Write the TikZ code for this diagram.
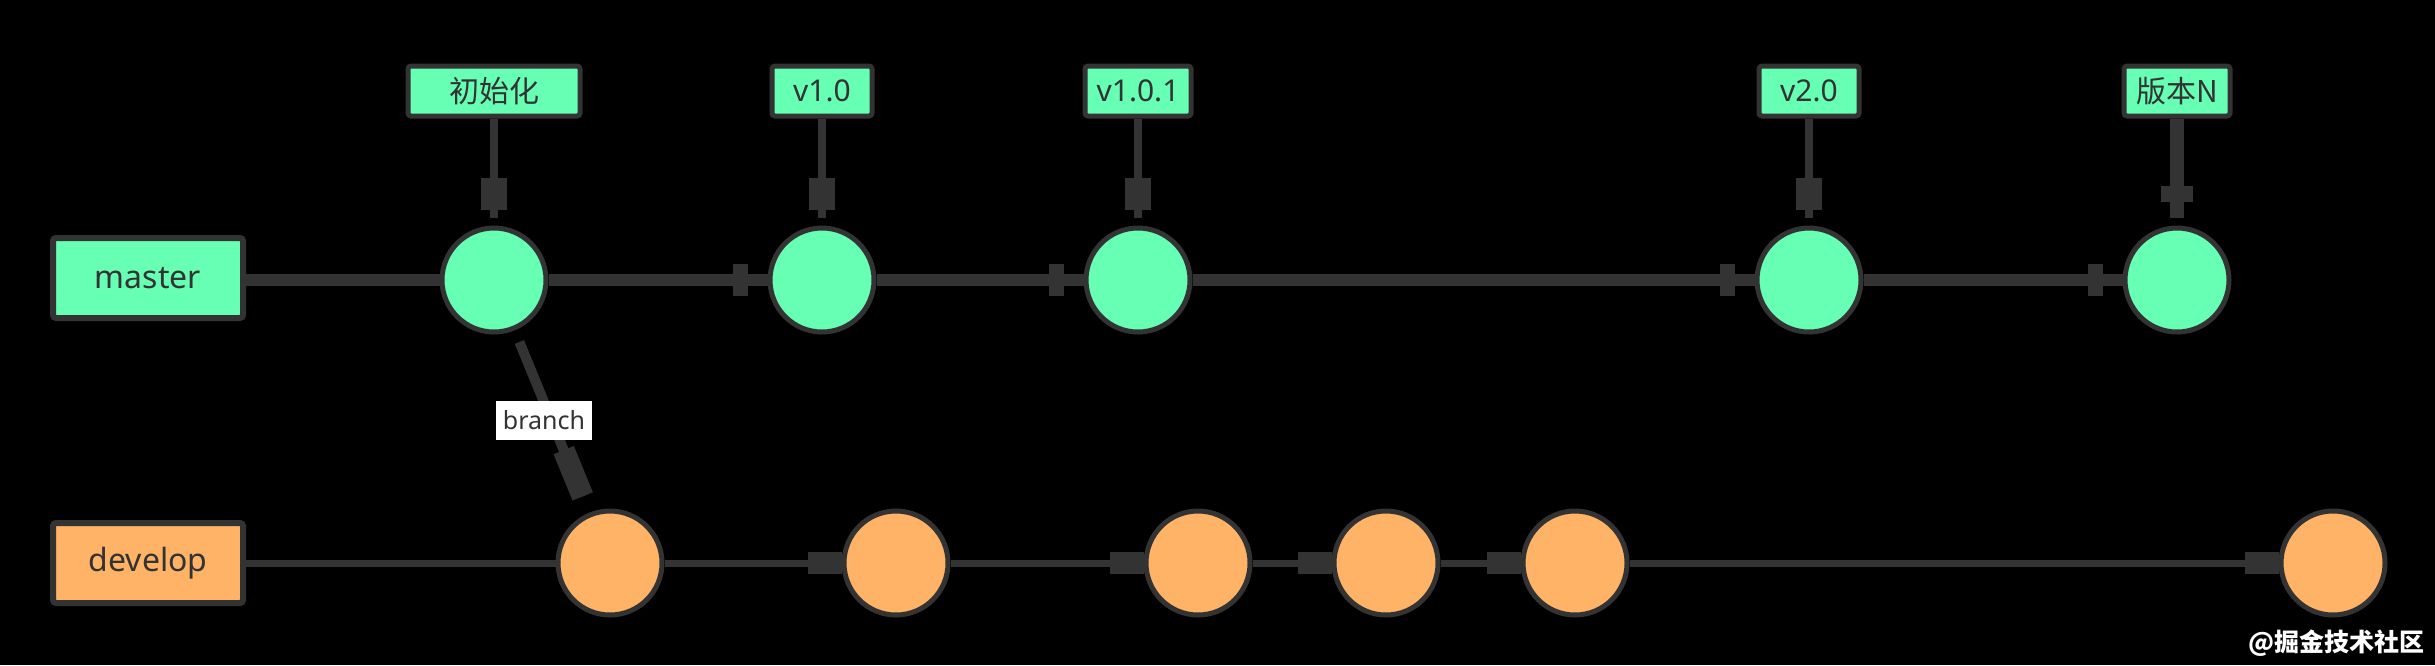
\documentclass[tikz,border=0pt]{standalone}
\usepackage{fontspec}
\setmainfont{Noto Sans}
\newfontfamily\cjk{Noto Sans CJK SC}
\usetikzlibrary{calc,decorations.markings}
\definecolor{mint}{HTML}{66FFB3}
\definecolor{peach}{HTML}{FFB366}
\definecolor{ink}{HTML}{333333}
\begin{document}
\begin{tikzpicture}[x=1pt,y=-1pt,
  branchbox/.style={draw=ink, line width=6pt, rounded corners=3pt, minimum width=190pt, minimum height=80pt, inner sep=0pt, text=ink, font=\fontsize{32}{38}\selectfont},
  commit/.style={circle, draw=ink, line width=5pt, minimum size=104pt, inner sep=0pt},
  tagbox/.style={draw=ink, fill=mint, line width=5pt, rounded corners=3pt, minimum height=50pt, inner sep=0pt, text=ink, font=\fontsize{30}{36}\selectfont},
  mline/.style={draw=ink, line width=12pt},
  dline/.style={draw=ink, line width=7pt},
  vline/.style={draw=ink, line width=8pt},
  vthick/.style={draw=ink, line width=14pt},
  bline/.style={draw=ink, line width=10pt},
  mhead/.style={postaction={decorate, decoration={markings, mark=at position -27pt with {\fill[ink] (-7.5,-16) rectangle (7.5,16);}}}},
  dhead/.style={postaction={decorate, decoration={markings, mark=at position -17pt with {\fill[ink] (-17,-11) rectangle (17,11);}}}},
  vhead/.style={postaction={decorate, decoration={markings, mark=at position -24pt with {\fill[ink] (-16,-13) rectangle (16,13);}}}},
  vheadthick/.style={postaction={decorate, decoration={markings, mark=at position -24pt with {\fill[ink] (-8,-16) rectangle (8,16);}}}},
  bhead/.style={postaction={decorate, decoration={markings, mark=at position -25pt with {\fill[ink] (-25,-11) rectangle (25,11);}}}},
]
\fill[black] (0,0) rectangle (2435,665);
\useasboundingbox (0,0) rectangle (2435,665);

% branch labels
\node[branchbox, fill=mint] (mb) at (148,278) {master};
\node[branchbox, fill=peach] (db) at (148,563) {develop};

% master commits
\node[commit, fill=mint] (m1) at (494,280) {};
\node[commit, fill=mint] (m2) at (822,280) {};
\node[commit, fill=mint] (m3) at (1138,280) {};
\node[commit, fill=mint] (m4) at (1809,280) {};
\node[commit, fill=mint] (m5) at (2177,280) {};

% develop commits
\node[commit, fill=peach] (d1) at (610,563) {};
\node[commit, fill=peach] (d2) at (896,563) {};
\node[commit, fill=peach] (d3) at (1198,563) {};
\node[commit, fill=peach] (d4) at (1386,563) {};
\node[commit, fill=peach] (d5) at (1575,563) {};
\node[commit, fill=peach] (d6) at (2333,563) {};

% tags
\node[tagbox, minimum width=172pt] (t1) at (494,91) {\cjk 初始化};
\node[tagbox, minimum width=100pt] (t2) at (822,91) {v1.0};
\node[tagbox, minimum width=106pt] (t3) at (1138,91) {v1.0.1};
\node[tagbox, minimum width=100pt] (t4) at (1809,91) {v2.0};
\node[tagbox, minimum width=106pt] (t5) at (2177,91) {\cjk 版本N};

% master line
\draw[mline] (mb.east |- m1) -- (m1);
\draw[mline, mhead] (m1) -- (m2);
\draw[mline, mhead] (m2) -- (m3);
\draw[mline, mhead] (m3) -- (m4);
\draw[mline, mhead] (m4) -- (m5);

% develop line
\draw[dline] (db.east |- d1) -- (d1);
\draw[dline, dhead] (d1) -- (d2);
\draw[dline, dhead] (d2) -- (d3);
\draw[dline, dhead] (d3) -- (d4);
\draw[dline, dhead] (d4) -- (d5);
\draw[dline, dhead] (d5) -- (d6);

% tag arrows
\draw[vline, vhead] (t1.south) -- ($(m1.north)+(0,-8)$);
\draw[vline, vhead] (t2.south) -- ($(m2.north)+(0,-8)$);
\draw[vline, vhead] (t3.south) -- ($(m3.north)+(0,-8)$);
\draw[vline, vhead] (t4.south) -- ($(m4.north)+(0,-8)$);
\draw[vthick, vheadthick] (t5.south) -- ($(m5.north)+(0,-8)$);

% branch
\draw[bline, bhead] ($(m1)!67pt!(d1)$) -- ($(d1)!72pt!(m1)$);
\node[fill=white, text=ink, minimum width=96pt, minimum height=39pt, inner sep=0pt, font=\fontsize{25}{30}\selectfont] (bl) at (544,420) {branch};

% watermark
\node[text=white, inner sep=0pt, font=\cjk\bfseries\fontsize{25}{30}\selectfont] (wm) at (2336,643) {@掘金技术社区};
\end{tikzpicture}
\end{document}
